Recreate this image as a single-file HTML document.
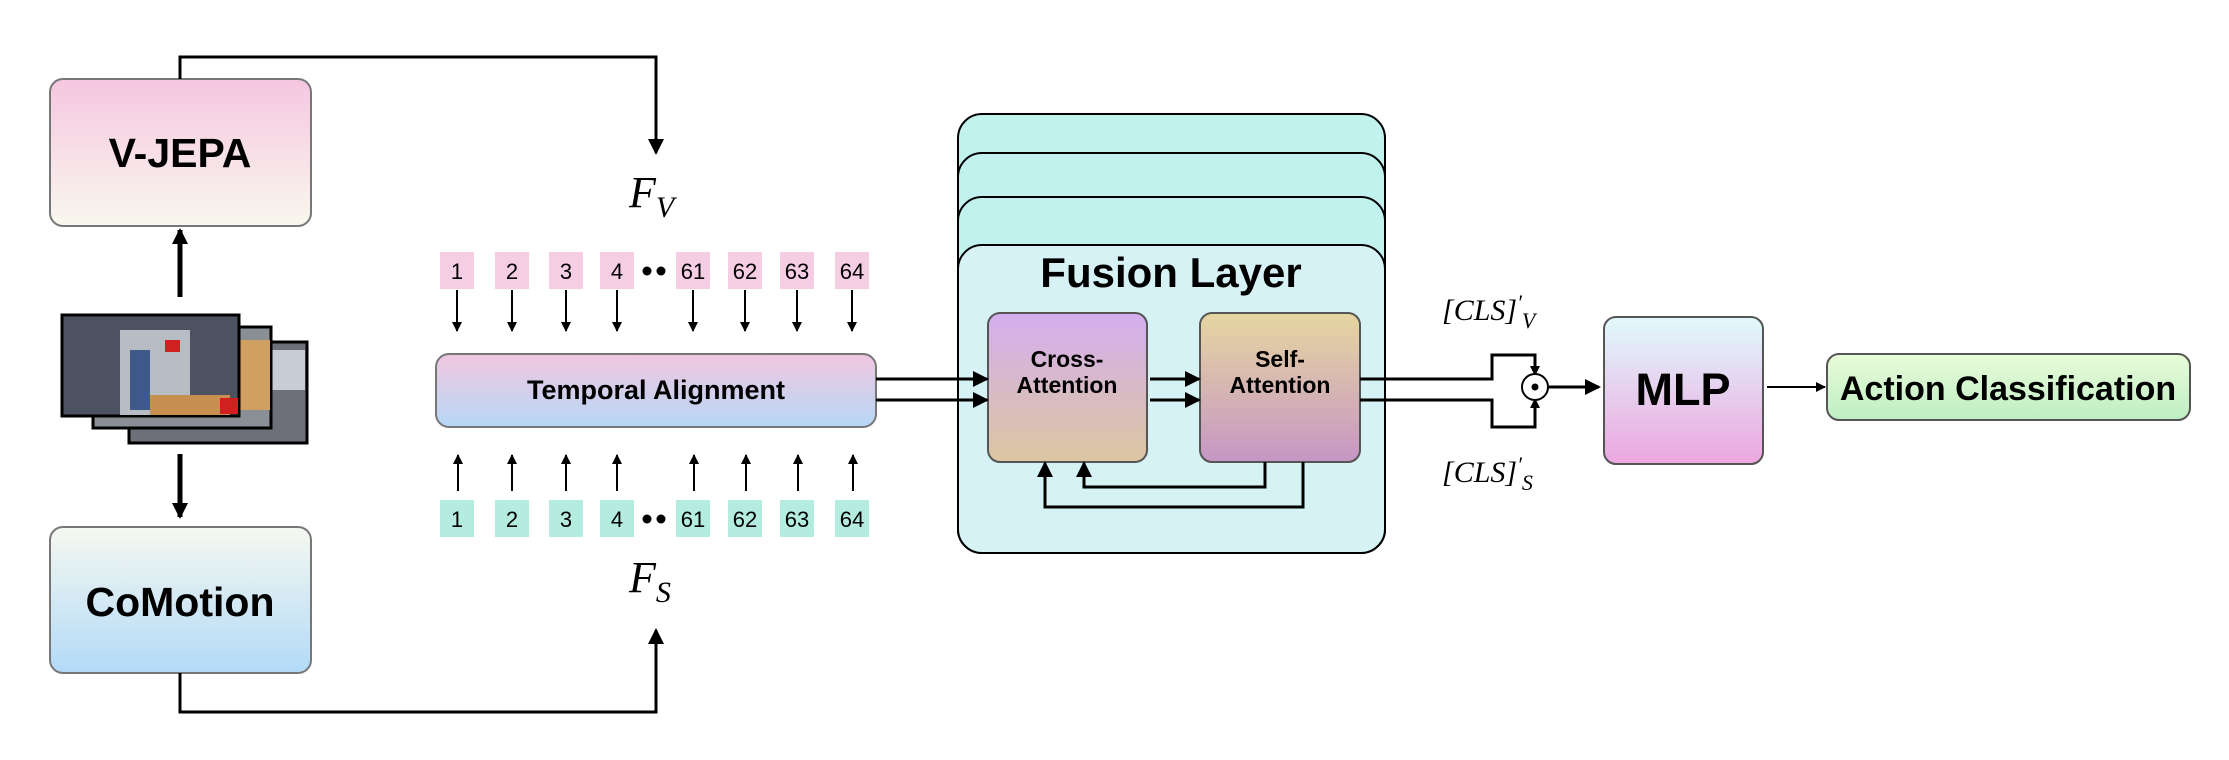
<!DOCTYPE html>
<html><head><meta charset="utf-8"><style>
html,body{margin:0;padding:0;background:#fff}
svg text{font-family:"Liberation Sans",sans-serif}
.m{font-family:"Liberation Serif",serif;font-style:italic}
</style></head><body>
<svg width="2229" height="755" viewBox="0 0 2229 755" xmlns="http://www.w3.org/2000/svg">
<defs>
<linearGradient id="gv" x1="0" y1="0" x2="0" y2="1"><stop offset="0" stop-color="#f6c6e0"/><stop offset="1" stop-color="#f8f8ee"/></linearGradient>
<linearGradient id="gc" x1="0" y1="0" x2="0" y2="1"><stop offset="0" stop-color="#f6f8f0"/><stop offset="1" stop-color="#b2daf8"/></linearGradient>
<linearGradient id="gt" x1="0" y1="0" x2="0" y2="1"><stop offset="0" stop-color="#f2c6e0"/><stop offset="1" stop-color="#b6d8f6"/></linearGradient>
<linearGradient id="gx" x1="0" y1="0" x2="0" y2="1"><stop offset="0" stop-color="#d4aef0"/><stop offset="1" stop-color="#dcc6a0"/></linearGradient>
<linearGradient id="gs" x1="0" y1="0" x2="0" y2="1"><stop offset="0" stop-color="#e6d6a0"/><stop offset="1" stop-color="#c696c4"/></linearGradient>
<linearGradient id="gm" x1="0" y1="0" x2="0" y2="1"><stop offset="0" stop-color="#e0fafc"/><stop offset="1" stop-color="#eca6e0"/></linearGradient>
<linearGradient id="ga" x1="0" y1="0" x2="0" y2="1"><stop offset="0" stop-color="#e8fcd8"/><stop offset="1" stop-color="#bfeec4"/></linearGradient>
<marker id="ah" markerWidth="10" markerHeight="10" refX="9" refY="5" orient="auto" markerUnits="userSpaceOnUse"><path d="M0,0 L10,5 L0,10 Z" fill="#000"/></marker>
<marker id="ab" markerWidth="16" markerHeight="16" refX="14" refY="8" orient="auto" markerUnits="userSpaceOnUse"><path d="M0,0 L16,8 L0,16 Z" fill="#000"/></marker>
</defs>

<rect x="50" y="79" width="261" height="147" rx="13" fill="url(#gv)" stroke="#777" stroke-width="2"/>
<text x="180" y="167" font-size="41" font-weight="bold" text-anchor="middle">V-JEPA</text>
<rect x="50" y="527" width="261" height="146" rx="13" fill="url(#gc)" stroke="#777" stroke-width="2"/>
<text x="180" y="616" font-size="41" font-weight="bold" text-anchor="middle">CoMotion</text>

<polyline points="180,79 180,57 656,57 656,153" fill="none" stroke="#000" stroke-width="3" marker-end="url(#ab)"/>
<polyline points="180,673 180,712 656,712 656,630" fill="none" stroke="#000" stroke-width="3" marker-end="url(#ab)"/>
<line x1="180" y1="297" x2="180" y2="230" stroke="#000" stroke-width="5" marker-end="url(#ab)"/>
<line x1="180" y1="454" x2="180" y2="517" stroke="#000" stroke-width="5" marker-end="url(#ab)"/>

<rect x="129" y="342" width="178" height="101" fill="#6d7078" stroke="#000" stroke-width="3"/>
<rect x="230" y="350" width="75" height="40" fill="#c8ccd4"/>
<rect x="93" y="327" width="178" height="101" fill="#8a8f96" stroke="#000" stroke-width="3"/>
<rect x="240" y="340" width="30" height="70" fill="#d0a060"/>
<rect x="62" y="315" width="177" height="101" fill="#4d5260" stroke="#000" stroke-width="3"/>
<rect x="120" y="330" width="70" height="85" fill="#b8bcc4"/>
<rect x="130" y="350" width="20" height="60" fill="#3d5a8a"/>
<rect x="150" y="395" width="80" height="20" fill="#c89050"/>
<rect x="220" y="398" width="18" height="16" fill="#d02020"/>
<rect x="165" y="340" width="15" height="12" fill="#d02020"/>

<text x="629" y="207" font-size="44" class="m">F<tspan font-size="30" dy="10">V</tspan></text>
<text x="629" y="592" font-size="44" class="m">F<tspan font-size="30" dy="10">S</tspan></text>

<g font-size="22" text-anchor="middle">
<g fill="#f6cee4">
<rect x="440" y="252" width="34" height="37"/><rect x="495" y="252" width="34" height="37"/><rect x="549" y="252" width="34" height="37"/><rect x="600" y="252" width="34" height="37"/>
<rect x="676" y="252" width="34" height="37"/><rect x="728" y="252" width="34" height="37"/><rect x="780" y="252" width="34" height="37"/><rect x="835" y="252" width="34" height="37"/>
</g>
<g fill="#b4ece0">
<rect x="440" y="500" width="34" height="37"/><rect x="495" y="500" width="34" height="37"/><rect x="549" y="500" width="34" height="37"/><rect x="600" y="500" width="34" height="37"/>
<rect x="676" y="500" width="34" height="37"/><rect x="728" y="500" width="34" height="37"/><rect x="780" y="500" width="34" height="37"/><rect x="835" y="500" width="34" height="37"/>
</g>
<g>
<text x="457" y="279">1</text><text x="512" y="279">2</text><text x="566" y="279">3</text><text x="617" y="279">4</text>
<text x="693" y="279">61</text><text x="745" y="279">62</text><text x="797" y="279">63</text><text x="852" y="279">64</text>
<text x="457" y="527">1</text><text x="512" y="527">2</text><text x="566" y="527">3</text><text x="617" y="527">4</text>
<text x="693" y="527">61</text><text x="745" y="527">62</text><text x="797" y="527">63</text><text x="852" y="527">64</text>
</g>
</g>
<circle cx="647" cy="271" r="4.5"/><circle cx="661" cy="271" r="4.5"/>
<circle cx="647" cy="519" r="4.5"/><circle cx="661" cy="519" r="4.5"/>
<g stroke="#000" stroke-width="2">
<line x1="457" y1="290" x2="457" y2="331" marker-end="url(#ah)"/><line x1="512" y1="290" x2="512" y2="331" marker-end="url(#ah)"/><line x1="566" y1="290" x2="566" y2="331" marker-end="url(#ah)"/><line x1="617" y1="290" x2="617" y2="331" marker-end="url(#ah)"/>
<line x1="693" y1="290" x2="693" y2="331" marker-end="url(#ah)"/><line x1="745" y1="290" x2="745" y2="331" marker-end="url(#ah)"/><line x1="797" y1="290" x2="797" y2="331" marker-end="url(#ah)"/><line x1="852" y1="290" x2="852" y2="331" marker-end="url(#ah)"/>
<line x1="458" y1="491" x2="458" y2="455" marker-end="url(#ah)"/><line x1="512" y1="491" x2="512" y2="455" marker-end="url(#ah)"/><line x1="566" y1="491" x2="566" y2="455" marker-end="url(#ah)"/><line x1="617" y1="491" x2="617" y2="455" marker-end="url(#ah)"/>
<line x1="694" y1="491" x2="694" y2="455" marker-end="url(#ah)"/><line x1="746" y1="491" x2="746" y2="455" marker-end="url(#ah)"/><line x1="798" y1="491" x2="798" y2="455" marker-end="url(#ah)"/><line x1="853" y1="491" x2="853" y2="455" marker-end="url(#ah)"/>
</g>

<rect x="436" y="354" width="440" height="73" rx="13" fill="url(#gt)" stroke="#777" stroke-width="2"/>
<text x="656" y="399" font-size="27" font-weight="bold" text-anchor="middle">Temporal Alignment</text>

<g transform="translate(-5,0)">
<rect x="963" y="114" width="427" height="439" rx="24" fill="#c2f2ee" stroke="#000" stroke-width="2"/>
<rect x="963" y="153" width="427" height="400" rx="24" fill="#c2f2ee" stroke="#000" stroke-width="2"/>
<rect x="963" y="197" width="427" height="356" rx="24" fill="#c2f2ee" stroke="#000" stroke-width="2"/>
<rect x="963" y="245" width="427" height="308" rx="24" fill="#d6f2f4" stroke="#000" stroke-width="2"/>
<text x="1176" y="287" font-size="42" font-weight="bold" text-anchor="middle">Fusion Layer</text>

<rect x="993" y="313" width="159" height="149" rx="12" fill="url(#gx)" stroke="#555" stroke-width="2"/>
<text x="1072" y="367" font-size="23" font-weight="bold" text-anchor="middle">Cross-</text>
<text x="1072" y="393" font-size="23" font-weight="bold" text-anchor="middle">Attention</text>
<rect x="1205" y="313" width="160" height="149" rx="12" fill="url(#gs)" stroke="#555" stroke-width="2"/>
<text x="1285" y="367" font-size="23" font-weight="bold" text-anchor="middle">Self-</text>
<text x="1285" y="393" font-size="23" font-weight="bold" text-anchor="middle">Attention</text>

<g stroke="#000" stroke-width="3" fill="none">
<line x1="881" y1="379" x2="992" y2="379" marker-end="url(#ab)"/>
<line x1="881" y1="400" x2="992" y2="400" marker-end="url(#ab)"/>
<line x1="1155" y1="379" x2="1204" y2="379" marker-end="url(#ab)"/>
<line x1="1155" y1="400" x2="1204" y2="400" marker-end="url(#ab)"/>
<polyline points="1270,462 1270,487 1089,487 1089,463" marker-end="url(#ab)"/>
<polyline points="1308,462 1308,507 1050,507 1050,463" marker-end="url(#ab)"/>
<polyline points="1365,379 1497,379 1497,355 1540,355 1540,375" marker-end="url(#ah)"/>
<polyline points="1365,400 1497,400 1497,427 1540,427 1540,399" marker-end="url(#ah)"/>
<line x1="1554" y1="387" x2="1604" y2="387" marker-end="url(#ab)"/>
</g>
<ellipse cx="1540" cy="387" rx="13" ry="13" fill="#fff" stroke="#000" stroke-width="2"/>
<circle cx="1540" cy="387" r="3.5"/>

<text x="1447" y="320" font-size="30" class="m" font-style="normal">[<tspan font-style="italic">CLS</tspan>]<tspan font-size="22" dy="-10">′</tspan><tspan font-size="22" dy="18" font-style="italic">V</tspan></text>
<text x="1447" y="482" font-size="30" class="m" font-style="normal">[<tspan font-style="italic">CLS</tspan>]<tspan font-size="22" dy="-10">′</tspan><tspan font-size="22" dy="18" font-style="italic">S</tspan></text>
</g>

<g transform="translate(-9,0)">
<rect x="1613" y="317" width="159" height="147" rx="12" fill="url(#gm)" stroke="#555" stroke-width="2"/>
<text x="1692" y="405" font-size="45" font-weight="bold" text-anchor="middle">MLP</text>
<line x1="1776" y1="387" x2="1834" y2="387" stroke="#000" stroke-width="2" marker-end="url(#ah)"/>
<rect x="1836" y="354" width="363" height="66" rx="12" fill="url(#ga)" stroke="#555" stroke-width="2"/>
<text x="2017" y="400" font-size="34" font-weight="bold" text-anchor="middle">Action Classification</text>
</g>
</svg>
</body></html>
